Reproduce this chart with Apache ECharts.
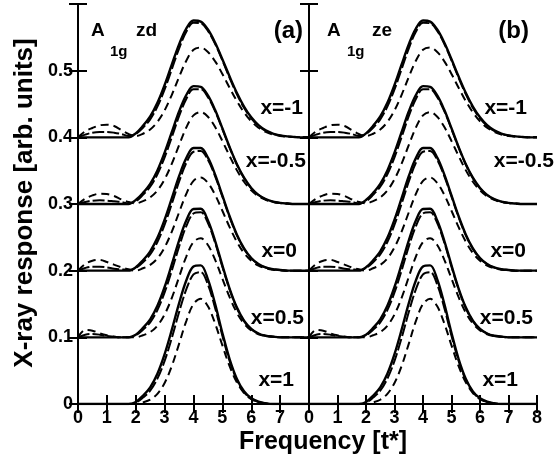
<!DOCTYPE html>
<html>
<head>
<meta charset="utf-8">
<script src="https://cdn.jsdelivr.net/npm/echarts@6/dist/echarts.min.js"></script>
<style>html,body{margin:0;padding:0;background:#fff;}#c{width:558px;height:462px;}</style>
</head>
<body>
<div id="c"></div>
<script>
// frequency grid [t*]
const freq = [0,0.25,0.5,0.75,1,1.25,1.5,1.75,2,2.25,2.5,2.75,3,3.25,3.5,3.75,4,4.25,4.5,4.75,5,5.25,5.5,5.75,6,6.25,6.5,6.75,7,7.25,7.5,7.75,8];

// x = -1 (curves drawn on a 0.4 baseline)
const xm1Solid = [0.4,0.4,0.4,0.4,0.4,0.4,0.4,0.4,0.406,0.4173,0.4313,0.4517,0.4785,0.5093,0.5394,0.5632,0.5752,0.5736,0.5617,0.5419,0.5172,0.4912,0.4668,0.4461,0.43,0.4183,0.4105,0.4057,0.4029,0.4014,0.4006,0.4,0.4];
const xm1Long  = [0.4,0.404,0.407,0.408,0.408,0.407,0.405,0.402,0.405,0.4144,0.427,0.4461,0.4719,0.5024,0.5332,0.5583,0.5718,0.5711,0.5597,0.54,0.5154,0.4893,0.4649,0.4443,0.4285,0.4172,0.4097,0.4052,0.4026,0.4012,0.4005,0.4,0.4];
const xm1Med   = [0.4,0.409,0.414,0.418,0.419,0.417,0.411,0.405,0.402,0.4054,0.4117,0.423,0.4404,0.4638,0.4905,0.515,0.5313,0.5347,0.528,0.514,0.4951,0.4744,0.4545,0.4374,0.4241,0.4145,0.4082,0.4043,0.4021,0.401,0.4004,0.4,0.4];
// x = -0.5 (0.3 baseline)
const xm05Solid = [0.3,0.3,0.3,0.3,0.3,0.3,0.3,0.3,0.306,0.3167,0.3303,0.3504,0.3771,0.408,0.4388,0.4635,0.4768,0.4758,0.4629,0.4409,0.4136,0.3855,0.3601,0.3394,0.3241,0.3137,0.3073,0.3036,0.3017,0.3007,0.3,0.3,0.3];
const xm05Long  = [0.3,0.303,0.305,0.3055,0.305,0.304,0.303,0.301,0.304,0.3137,0.3259,0.3446,0.37,0.4005,0.4316,0.4575,0.4722,0.4723,0.4603,0.439,0.4123,0.3845,0.3592,0.3387,0.3235,0.3134,0.307,0.3035,0.3016,0.3007,0.3,0.3,0.3];
const xm05Med   = [0.3,0.308,0.313,0.3155,0.315,0.312,0.307,0.303,0.301,0.3043,0.3099,0.3202,0.3371,0.3605,0.3882,0.4147,0.433,0.4378,0.4309,0.4154,0.3945,0.372,0.3508,0.3334,0.3204,0.3115,0.3061,0.303,0.3014,0.3006,0.3,0.3,0.3];
// x = 0 (0.2 baseline)
const x0Solid = [0.2,0.2,0.2,0.2,0.2,0.2,0.2,0.2,0.205,0.2156,0.229,0.2492,0.2765,0.3088,0.3416,0.3688,0.3841,0.384,0.3695,0.344,0.3128,0.2816,0.2544,0.2335,0.219,0.2099,0.2048,0.2021,0.201,0.2,0.2,0.2,0.2];
const x0Long  = [0.2,0.204,0.206,0.206,0.205,0.203,0.202,0.201,0.204,0.2127,0.2245,0.243,0.2689,0.3004,0.3335,0.3616,0.3784,0.3796,0.3662,0.3415,0.311,0.2802,0.2533,0.2327,0.2184,0.2096,0.2046,0.202,0.201,0.2,0.2,0.2,0.2];
const x0Med   = [0.2,0.21,0.215,0.216,0.213,0.209,0.205,0.202,0.2,0.2036,0.2086,0.2184,0.2349,0.2587,0.2873,0.3152,0.3347,0.3398,0.3315,0.3136,0.2899,0.2653,0.2435,0.2265,0.2149,0.2076,0.2036,0.2015,0.2006,0.2,0.2,0.2,0.2];
// x = 0.5 (0.1 baseline)
const x05Solid = [0.1,0.1,0.1,0.1,0.1,0.1,0.1,0.1,0.104,0.1141,0.127,0.1473,0.1755,0.2097,0.2452,0.2751,0.2926,0.2928,0.2752,0.2444,0.208,0.1732,0.145,0.1251,0.1127,0.1058,0.1024,0.101,0.1,0.1,0.1,0.1,0.1];
const x05Long  = [0.1,0.104,0.105,0.104,0.102,0.101,0.1,0.1,0.103,0.1113,0.1225,0.1409,0.1673,0.2004,0.2359,0.2668,0.2857,0.2875,0.2713,0.2417,0.2059,0.1717,0.1439,0.1243,0.1122,0.1055,0.1022,0.101,0.1,0.1,0.1,0.1,0.1];
const x05Med   = [0.1,0.111,0.11,0.106,0.103,0.101,0.1,0.1,0.1,0.1031,0.1078,0.1174,0.1343,0.1593,0.1904,0.2212,0.243,0.2487,0.2384,0.2162,0.188,0.1602,0.1371,0.1207,0.1104,0.1047,0.102,0.101,0.1,0.1,0.1,0.1,0.1];
// x = 1 (0 baseline)
const x1Solid = [0,0,0,0,0,0,0,0,0.003,0.0125,0.025,0.0454,0.0748,0.1115,0.151,0.1853,0.2063,0.208,0.187,0.1498,0.1066,0.0675,0.038,0.019,0.0085,0.0034,0.001,0,0,0,0,0,0];
const x1Long  = [0,0,0,0,0,0,0,0,0.002,0.0096,0.02,0.038,0.0646,0.0993,0.1376,0.172,0.1943,0.1978,0.179,0.1438,0.1024,0.0646,0.0361,0.0179,0.0079,0.003,0.001,0,0,0,0,0,0];
const x1Med   = [0,0,0,0,0,0,0,0,0,0.0024,0.0064,0.0153,0.0316,0.0571,0.0902,0.1244,0.15,0.1579,0.1465,0.1205,0.0879,0.0568,0.0325,0.0165,0.0074,0.003,0.001,0,0,0,0,0,0];

// panel (b) curves read as the same as panel (a)
const panelA = [[xm1Solid,xm1Long,xm1Med],[xm05Solid,xm05Long,xm05Med],[x0Solid,x0Long,x0Med],[x05Solid,x05Long,x05Med],[x1Solid,x1Long,x1Med]];
const panelB = panelA;

const xTickLabelsA = ['0','1','2','3','4','5','6','7',''];
const xTickLabelsB = ['0','1','2','3','4','5','6','7','8'];
const yTickLabels = ['0','0.1','0.2','0.3','0.4','0.5',''];
const curveLabels = ['x=-1','x=-0.5','x=0','x=0.5','x=1'];

const FONT = '"Liberation Sans", Arial, sans-serif';
const chart = echarts.init(document.getElementById('c'), null, {renderer:'canvas'});

const axisLine = {show:true, lineStyle:{color:'#000', width:2}};
const tick = {show:true, inside:true, length:9, lineStyle:{color:'#000', width:2}};
function xAx(grid, pos, labels){
  return {type:'value', gridIndex:grid, position:pos, min:0, max:8, interval:1,
    axisLine, axisTick:tick, splitLine:{show:false},
    axisLabel: labels ? {show:true, margin:5, color:'#000', fontSize:18, fontWeight:'bold', fontFamily:FONT,
      showMinLabel:true, showMaxLabel:true,
      formatter:(v)=>labels[Math.round(v)] } : {show:false}};
}
function yAx(grid, pos, labels){
  return {type:'value', gridIndex:grid, position:pos, min:0, max:0.6, interval:0.1,
    axisLine, axisTick:tick, splitLine:{show:false},
    axisLabel: labels ? {show:true, margin:5, color:'#000', fontSize:18, fontWeight:'bold', fontFamily:FONT,
      formatter:(v)=>labels[Math.round(v*10)] } : {show:false}};
}

const styles = [
  {type:'solid', width:2.4},
  {type:[12,3], width:2},
  {type:[8,5], width:2}
];
const series = [];
[panelA, panelB].forEach((panel, p) => {
  panel.forEach(group => {
    [2,1,0].forEach(k => {
      series.push({type:'line', xAxisIndex:p*2, yAxisIndex:p*2, showSymbol:false, smooth:0.35,
        silent:true, animation:false, z: 3 - k,
        lineStyle:{color:'#000', width:styles[k].width, type:styles[k].type},
        data: freq.map((f,i)=>[f, group[k][i]])});
    });
  });
});

function txt(s, x, y, size, align, extra){
  return Object.assign({type:'text', x:x, y:y, z:100,
    style:{text:s, fill:'#000', font:'bold '+size+'px '+FONT, textAlign:align, textVerticalAlign:'middle'}}, extra||{});
}
const labelPosA = [[303,108],[306,161],[297,251],[304,318],[294,380]];
const labelPosB = [[527,108],[554,161],[526,251],[533,318],[518,380]];
const graphic = [
  txt('A', 91, 31, 19, 'left'), txt('1g', 110, 52, 15, 'left'), txt('zd', 136, 31, 19, 'left'),
  txt('A', 327, 31, 19, 'left'), txt('1g', 347, 52, 15, 'left'), txt('ze', 372, 31, 19, 'left'),
  txt('(a)', 303, 31, 24, 'right'), txt('(b)', 529, 31, 24, 'right'),
  txt('Frequency [t*]', 323, 442, 25, 'center'),
  txt('X-ray response [arb. units]', 25, 203, 26, 'center', {rotation: Math.PI/2})
];
curveLabels.forEach((s,i)=>{
  graphic.push(txt(s, labelPosA[i][0], labelPosA[i][1], 21, 'right'));
  graphic.push(txt(s, labelPosB[i][0], labelPosB[i][1], 21, 'right'));
});

chart.setOption({
  animation:false,
  backgroundColor:'#fff',
  grid:[{left:78, top:4, width:231, height:400}, {left:309, top:4, width:228, height:400}],
  xAxis:[xAx(0,'bottom',xTickLabelsA), xAx(0,'top',null), xAx(1,'bottom',xTickLabelsB), xAx(1,'top',null)],
  yAxis:[yAx(0,'left',yTickLabels), yAx(0,'right',null), yAx(1,'left',null), yAx(1,'right',null)],
  series,
  graphic
});
</script>
</body>
</html>
